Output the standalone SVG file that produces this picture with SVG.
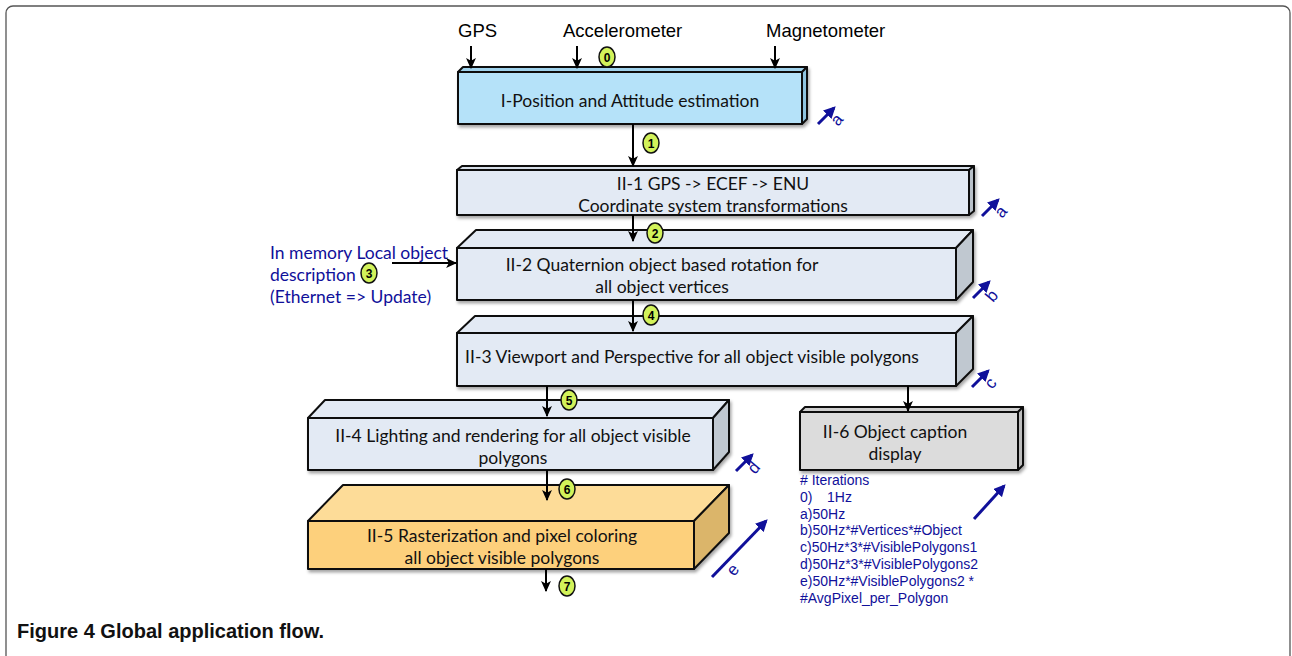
<svg xmlns="http://www.w3.org/2000/svg" width="1292" height="656" viewBox="0 0 1292 656">
<defs>
<marker id="ah" viewBox="0 0 10 10" refX="9" refY="5" markerWidth="11" markerHeight="11" orient="auto" markerUnits="userSpaceOnUse">
<path d="M0,0.5 L10,5 L0,9.5 L2.5,5 Z" fill="#000"/>
</marker>
<marker id="bh" viewBox="0 0 10 10" refX="8" refY="5" markerWidth="4" markerHeight="4" orient="auto">
<path d="M0,0 L10,5 L0,10 Z" fill="#10109a"/>
</marker>
<filter id="sh" x="-5%" y="-5%" width="115%" height="130%">
<feDropShadow dx="1.5" dy="2.5" stdDeviation="1.5" flood-color="#000" flood-opacity="0.35"/>
</filter>
</defs>
<style>
.box{font-family:Lato,"Open Sans",sans-serif;font-size:17.5px;fill:#111;text-anchor:middle}
.lbl{font-family:"Liberation Sans",Arial,sans-serif;font-size:18.5px;fill:#000}
.it{font-family:"Liberation Sans",Arial,sans-serif;font-size:14px;fill:#10109a}
.blue{font-family:Lato,"Open Sans",sans-serif;font-size:17.5px;fill:#10109a}
.edge{stroke:#111;stroke-width:2;stroke-linejoin:round}
.conn{stroke:#000;stroke-width:2;fill:none}
.barr{stroke:#10109a;stroke-width:3;fill:none}
.bl{font-family:"Liberation Sans",Arial,sans-serif;font-size:17px;fill:#10109a}
.bdg ellipse{fill:#d2f25a;stroke:#111;stroke-width:1.5}
.bdg text{font-family:"Liberation Sans",Arial,sans-serif;font-size:12px;font-weight:bold;fill:#000;text-anchor:middle}
</style>
<rect x="6" y="6" width="1284" height="680" rx="7" fill="#fff" stroke="#555" stroke-width="1.3"/>

<g id="inputs">
<text class="lbl" x="458" y="37">GPS</text>
<text class="lbl" x="563" y="37">Accelerometer</text>
<text class="lbl" x="766" y="37">Magnetometer</text>
</g>

<g id="node-I">
<g filter="url(#sh)">
<polygon class="edge" points="458,72 463,67 807,67 802,72" fill="#9fd2ec"/>
<polygon class="edge" points="802,72 807,67 807,119 802,124" fill="#8ec3de"/>
<rect class="edge" x="458" y="72" width="344" height="52" fill="#b5e2f9"/>
</g>
<text class="box" x="630" y="107">I-Position and Attitude estimation</text>
</g>

<g id="node-II-1">
<g filter="url(#sh)">
<polygon class="edge" points="457,170 462,166 974,166 969,170" fill="#d6dee8"/>
<polygon class="edge" points="969,170 974,166 974,211 969,215" fill="#b9c1c9"/>
<rect class="edge" x="457" y="170" width="512" height="45" fill="#e3eaf4"/>
</g>
<text class="box" x="713" y="190">II-1 GPS -&gt; ECEF -&gt; ENU</text>
<text class="box" x="713" y="212">Coordinate system transformations</text>
</g>

<g id="node-II-2">
<g filter="url(#sh)">
<polygon class="edge" points="457,248 476,230 973,230 956,248" fill="#e3eaf4"/>
<polygon class="edge" points="956,248 973,230 973,282 956,300" fill="#c0c8d0"/>
<rect class="edge" x="457" y="248" width="499" height="52" fill="#e3eaf4"/>
</g>
<text class="box" x="662" y="271">II-2 Quaternion object based rotation for</text>
<text class="box" x="662" y="293">all object vertices</text>
</g>

<g id="node-II-3">
<g filter="url(#sh)">
<polygon class="edge" points="457,333 475,316 973,316 956,333" fill="#e3eaf4"/>
<polygon class="edge" points="956,333 973,316 973,369 956,386" fill="#c0c8d0"/>
<rect class="edge" x="457" y="333" width="499" height="53" fill="#e3eaf4"/>
</g>
<text class="box" x="692" y="363">II-3 Viewport and Perspective for all object visible polygons</text>
</g>

<g id="node-II-4">
<g filter="url(#sh)">
<polygon class="edge" points="308,418 325,400 729,400 713,418" fill="#e3eaf4"/>
<polygon class="edge" points="713,418 729,400 729,452 713,470" fill="#c0c8d0"/>
<rect class="edge" x="308" y="418" width="405" height="52" fill="#e3eaf4"/>
</g>
<text class="box" x="513" y="442">II-4 Lighting and rendering for all object visible</text>
<text class="box" x="513" y="464">polygons</text>
</g>

<g id="node-II-5">
<g filter="url(#sh)">
<polygon class="edge" points="308,521 343,485 729,485 694,521" fill="#fddc98"/>
<polygon class="edge" points="694,521 729,485 729,533 694,569" fill="#dbb56a"/>
<rect class="edge" x="308" y="521" width="386" height="48" fill="#fdd07c"/>
</g>
<text class="box" x="502" y="542">II-5 Rasterization and pixel coloring</text>
<text class="box" x="502" y="564">all object visible polygons</text>
</g>

<g id="node-II-6">
<g filter="url(#sh)">
<polygon class="edge" points="800,412 805,407 1023,407 1018,412" fill="#cfcfcf"/>
<polygon class="edge" points="1018,412 1023,407 1023,465 1018,470" fill="#bdbdbd"/>
<rect class="edge" x="800" y="412" width="218" height="58" fill="#dcdcdc"/>
</g>
<text class="box" x="895" y="438">II-6 Object caption</text>
<text class="box" x="895" y="460">display</text>
</g>

<g id="local-object">
<text class="blue" x="270" y="259">In memory Local object</text>
<text class="blue" x="270" y="281">description</text>
<text class="blue" x="270" y="303">(Ethernet =&gt; Update)</text>
</g>

<g id="iterations">
<text class="it" x="800" y="485">
<tspan x="800" y="485"># Iterations</tspan>
<tspan x="800" y="501.8">0)</tspan><tspan x="827" y="501.8">1Hz</tspan>
<tspan x="800" y="518.6">a)50Hz</tspan>
<tspan x="800" y="535.4">b)50Hz*#Vertices*#Object</tspan>
<tspan x="800" y="552.2">c)50Hz*3*#VisiblePolygons1</tspan>
<tspan x="800" y="569">d)50Hz*3*#VisiblePolygons2</tspan>
<tspan x="800" y="585.8">e)50Hz*#VisiblePolygons2 *</tspan>
<tspan x="800" y="602.6">#AvgPixel_per_Polygon</tspan>
</text>
</g>

<g id="connectors">
<line class="conn" x1="471" y1="46" x2="471" y2="68" marker-end="url(#ah)"/>
<line class="conn" x1="577" y1="46" x2="577" y2="68" marker-end="url(#ah)"/>
<line class="conn" x1="775" y1="46" x2="775" y2="68" marker-end="url(#ah)"/>
<line class="conn" x1="633" y1="124" x2="633" y2="166" marker-end="url(#ah)"/>
<line class="conn" x1="633" y1="215" x2="633" y2="241" marker-end="url(#ah)"/>
<line class="conn" x1="392" y1="263" x2="456" y2="263" marker-end="url(#ah)"/>
<line class="conn" x1="633" y1="300" x2="633" y2="331" marker-end="url(#ah)"/>
<line class="conn" x1="908" y1="386" x2="908" y2="411" marker-end="url(#ah)"/>
<line class="conn" x1="547" y1="386" x2="547" y2="416" marker-end="url(#ah)"/>
<line class="conn" x1="547" y1="470" x2="547" y2="500" marker-end="url(#ah)"/>
<line class="conn" x1="546" y1="569" x2="546" y2="591" marker-end="url(#ah)"/>
</g>

<g id="badges">
<g class="bdg"><ellipse cx="607" cy="57" rx="8" ry="10"/><text x="607" y="61.5">0</text></g>
<g class="bdg"><ellipse cx="651" cy="143" rx="8" ry="10"/><text x="651" y="147.5">1</text></g>
<g class="bdg"><ellipse cx="655" cy="233" rx="8" ry="10"/><text x="655" y="237.5">2</text></g>
<g class="bdg"><ellipse cx="369" cy="273" rx="8" ry="10"/><text x="369" y="277.5">3</text></g>
<g class="bdg"><ellipse cx="651" cy="315" rx="8" ry="10"/><text x="651" y="319.5">4</text></g>
<g class="bdg"><ellipse cx="569" cy="400" rx="8" ry="10"/><text x="569" y="404.5">5</text></g>
<g class="bdg"><ellipse cx="567" cy="489" rx="8" ry="10"/><text x="567" y="493.5">6</text></g>
<g class="bdg"><ellipse cx="567" cy="586" rx="8" ry="10"/><text x="567" y="590.5">7</text></g>
</g>

<g id="rate-labels">
<line class="barr" x1="818" y1="124" x2="834" y2="108" marker-end="url(#bh)"/>
<text class="bl" transform="translate(838,127) rotate(-50)">a</text>
<line class="barr" x1="982" y1="216" x2="998" y2="200" marker-end="url(#bh)"/>
<text class="bl" transform="translate(1002,219) rotate(-50)">a</text>
<line class="barr" x1="973" y1="298" x2="989" y2="282" marker-end="url(#bh)"/>
<text class="bl" transform="translate(993,303) rotate(-50)">b</text>
<line class="barr" x1="972" y1="387" x2="988" y2="371" marker-end="url(#bh)"/>
<text class="bl" transform="translate(992,390) rotate(-50)">c</text>
<line class="barr" x1="736" y1="471" x2="752" y2="455" marker-end="url(#bh)"/>
<text class="bl" transform="translate(755,475) rotate(-50)">d</text>
<line class="barr" x1="712" y1="577" x2="766" y2="521" marker-end="url(#bh)"/>
<text class="bl" transform="translate(734,577) rotate(-50)">e</text>
<line class="barr" x1="974" y1="519" x2="1004" y2="486" marker-end="url(#bh)"/>
</g>

<text x="17" y="638" font-family="Liberation Sans,Arial,sans-serif" font-size="20" font-weight="bold" fill="#111">Figure 4 Global application flow.</text>
</svg>
